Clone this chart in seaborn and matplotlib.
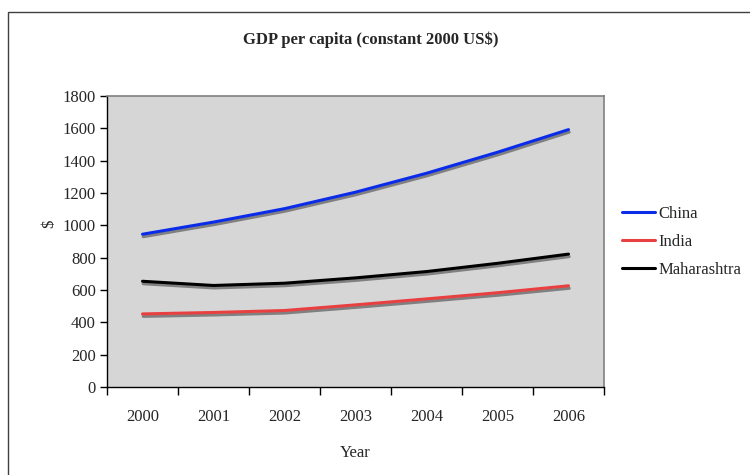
import matplotlib
matplotlib.use("Agg")
from matplotlib import pyplot as plt
import matplotlib.patheffects as pe
from matplotlib.patches import Rectangle
import pandas as pd
import seaborn as sns

years = ["2000", "2001", "2002", "2003", "2004", "2005", "2006"]
china = [945, 1020, 1103, 1205, 1322, 1452, 1592]
india = [452, 461, 473, 508, 545, 583, 626]
maharashtra = [654, 628, 642, 675, 714, 765, 822]
countries = ["China", "India", "Maharashtra"]
yticks = [0, 200, 400, 600, 800, 1000, 1200, 1400, 1600, 1800]

gdp = pd.DataFrame({
    "Year": years * 3,
    "GDP": china + india + maharashtra,
    "Country": [c for c in countries for _ in years],
})

sns.set_theme(style="white")
plt.rcParams["font.family"] = ["Liberation Serif", "DejaVu Serif"]
plt.rcParams["font.size"] = 12

fig = plt.figure(figsize=(7.5, 4.75), dpi=100)
ax = fig.add_axes([107/750, 1-387/475, (604-107)/750, (387-96)/475])

palette = {"China": "#0a2be8", "India": "#e84040", "Maharashtra": "#000000"}
sns.lineplot(x="Year", y="GDP", hue="Country", data=gdp, palette=palette,
             linewidth=2.2, ax=ax, sort=False)

# excel-like drop shadow under the lines
for line in ax.get_lines():
    line.set_path_effects([pe.SimpleLineShadow(offset=(0.5, -1.8), shadow_color="#808080", alpha=1.0),
                           pe.Normal()])

ax.set_facecolor("#d6d6d6")
ax.set_xlim(-0.5, 6.5)
ax.set_ylim(0, 1800)
ax.set_yticks(yticks)
ax.tick_params(axis="y", direction="out", length=5, width=1, color="black",
               pad=3, labelsize=12, left=True)
ax.set_xticks(range(len(years)))
ax.set_xticklabels(years)
ax.set_xticks([i - 0.5 for i in range(len(years) + 1)], minor=True)
ax.tick_params(axis="x", which="major", length=0, pad=16, labelsize=12)
ax.tick_params(axis="x", which="minor", direction="out", length=6, width=1,
               color="black", bottom=True)

for side in ["left", "bottom"]:
    ax.spines[side].set_color("black")
    ax.spines[side].set_linewidth(1)
for side in ["top", "right"]:
    ax.spines[side].set_color("#808080")
    ax.spines[side].set_linewidth(1.2)

ax.set_xlabel("Year", fontsize=12, labelpad=14)
ax.set_ylabel("$", fontsize=12)
ax.yaxis.set_label_coords((57-107)/497, (387-224)/291)

handles, labels = ax.get_legend_handles_labels()
for h in handles:
    h.set_path_effects([])
ax.legend(handles, labels, loc="center left", bbox_to_anchor=(622/750, 1-242/475),
          bbox_transform=fig.transFigure, frameon=False, borderpad=0, borderaxespad=0,
          handlelength=1.95, handletextpad=0.25, labelspacing=0.72, fontsize=12)

fig.text(371/750, 1-40/475, "GDP per capita (constant 2000 US$)", ha="center", va="center",
         fontsize=12, fontweight="bold")

fig.patches.append(Rectangle((8/750, -0.05), 1.0, 1.05 - 12/475, transform=fig.transFigure,
                             fill=False, edgecolor="#404040", linewidth=1))

plt.savefig("out.png", dpi=100)
